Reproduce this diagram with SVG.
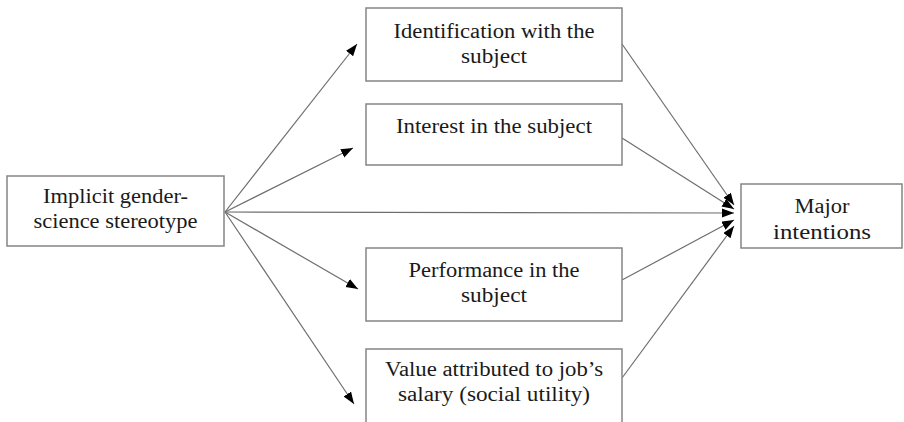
<svg xmlns="http://www.w3.org/2000/svg" width="904" height="422" viewBox="0 0 904 422">
<style>
.box{fill:#fff;stroke:#858585;stroke-width:1.5}
text{font-family:'Liberation Serif','Times New Roman',serif;font-size:20px;fill:#1a1a1a;text-anchor:middle}
.c{stroke:#6e6e6e;stroke-width:1.2;fill:none;marker-end:url(#ah)}
</style>
<defs>
<marker id="ah" markerUnits="userSpaceOnUse" markerWidth="13" markerHeight="10" refX="12" refY="4.5" orient="auto">
<path d="M0,0 L12,4.5 L0,9 z" fill="#000"/>
</marker>
</defs>
<rect width="904" height="422" fill="#fff"/>
<g id="connectors">
<line class="c" x1="225" y1="212" x2="357" y2="44"/>
<line class="c" x1="225" y1="212" x2="353" y2="148"/>
<line class="c" x1="225" y1="212" x2="734" y2="213"/>
<line class="c" x1="225" y1="212" x2="358" y2="289"/>
<line class="c" x1="225" y1="212" x2="354" y2="404"/>
<line class="c" x1="622" y1="44" x2="734" y2="205"/>
<line class="c" x1="622" y1="138" x2="734" y2="209"/>
<line class="c" x1="622" y1="280" x2="734" y2="220"/>
<line class="c" x1="622" y1="378" x2="734" y2="226"/>
</g>
<g id="stereotype">
<rect class="box" x="7" y="176" width="217" height="70"/>
<text x="115.5" y="203" textLength="145" lengthAdjust="spacingAndGlyphs">Implicit gender-</text>
<text x="115.5" y="228" textLength="164" lengthAdjust="spacingAndGlyphs">science stereotype</text>
</g>
<g id="identification">
<rect class="box" x="366" y="8" width="256" height="73"/>
<text x="494" y="38" textLength="201" lengthAdjust="spacingAndGlyphs">Identification with the</text>
<text x="494" y="63" textLength="66" lengthAdjust="spacingAndGlyphs">subject</text>
</g>
<g id="interest">
<rect class="box" x="366" y="104" width="256" height="61"/>
<text x="494" y="133" textLength="196" lengthAdjust="spacingAndGlyphs">Interest in the subject</text>
</g>
<g id="performance">
<rect class="box" x="366" y="248" width="256" height="73"/>
<text x="494" y="277" textLength="171" lengthAdjust="spacingAndGlyphs">Performance in the</text>
<text x="494" y="302" textLength="66" lengthAdjust="spacingAndGlyphs">subject</text>
</g>
<g id="value">
<rect class="box" x="366" y="349" width="256" height="80"/>
<text x="494" y="376" textLength="218" lengthAdjust="spacingAndGlyphs">Value attributed to job’s</text>
<text x="494" y="401" textLength="192" lengthAdjust="spacingAndGlyphs">salary (social utility)</text>
</g>
<g id="major">
<rect class="box" x="741" y="184" width="161" height="64"/>
<text x="822" y="213" textLength="55" lengthAdjust="spacingAndGlyphs">Major</text>
<text x="822" y="239" textLength="98" lengthAdjust="spacingAndGlyphs">intentions</text>
</g>
</svg>
